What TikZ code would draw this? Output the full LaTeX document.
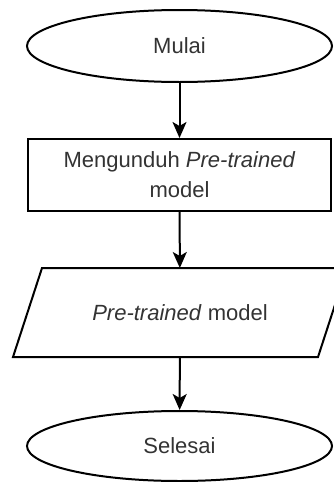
\documentclass[tikz,border=0pt]{standalone}
\usepackage{fontspec}
\setmainfont{Liberation Sans}
\usetikzlibrary{shapes.geometric,arrows.meta}

\begin{document}
\begin{tikzpicture}[x=1pt,y=-1pt,
    every node/.style={font=\fontsize{22}{30}\selectfont,text=black!80,line width=2pt},
    terminal/.style={draw,ellipse,minimum width=305pt,minimum height=72pt},
    proses/.style={draw,rectangle,minimum width=303pt,minimum height=72pt,align=center},
    data/.style={rectangle,minimum width=303pt,minimum height=87pt},
    panah/.style={-{Stealth[length=16pt,width=14pt,inset=4pt]},line width=2pt}]
  \useasboundingbox (0,0) rectangle (333,482);
  % alur
  \node[terminal] (mulai) at (179.5,46) {Mulai};
  \node[proses] (unduh) at (179.5,175) {Mengunduh \textit{Pre-trained}\\model};
  \node[data] (model) at (180,312.5) {\textit{Pre-trained} model};
  \node[terminal,minimum height=70pt] (selesai) at (179.5,446) {Selesai};
  % jajaran genjang untuk data
  \draw[line width=2pt,line join=miter] ([xshift=-14.5pt]model.south west) -- ([xshift=14.5pt]model.north west)
    -- ([xshift=14.5pt]model.north east) -- ([xshift=-14.5pt]model.south east) -- cycle;
  \draw[panah] (mulai) -- (unduh);
  \draw[panah] (unduh) -- (model);
  \draw[panah] (model) -- (selesai);
\end{tikzpicture}
\end{document}
